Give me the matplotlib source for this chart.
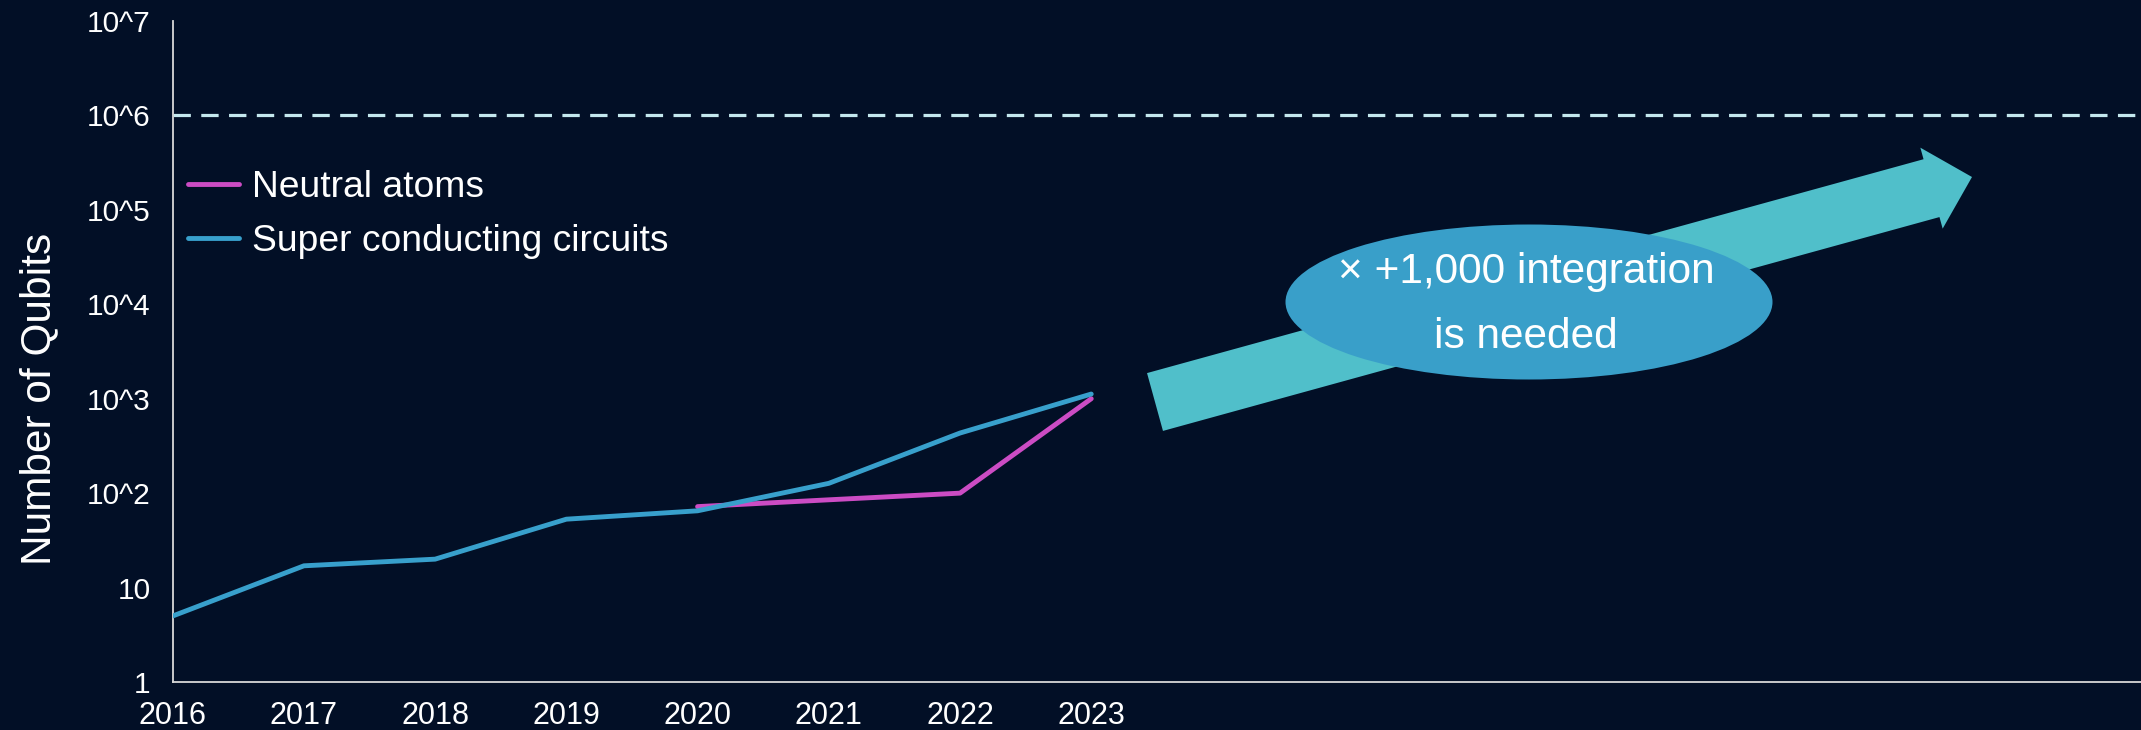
import matplotlib
matplotlib.use("Agg")
import matplotlib.pyplot as plt
import matplotlib.patches as mpatches
from matplotlib.ticker import NullLocator

# qubit counts per year (log scale)
SC_YEARS = [2016, 2017, 2018, 2019, 2020, 2021, 2022, 2023]
SC_QUBITS = [5, 17, 20, 53, 65, 127, 433, 1121]
NA_YEARS = [2020, 2021, 2022, 2023]
NA_QUBITS = [72, 85, 100, 1000]

X_TICKS = [2016, 2017, 2018, 2019, 2020, 2021, 2022, 2023]
Y_TICKS = [1, 10, 1e2, 1e3, 1e4, 1e5, 1e6, 1e7]
Y_TICK_LABELS = ["1", "10", "10^2", "10^3", "10^4", "10^5", "10^6", "10^7"]
TARGET = 1e6

BG = "#020f26"
SC_COLOR = "#38a0cc"
NA_COLOR = "#cc4cc4"
ARROW_COLOR = "#50bfca"
BUBBLE_COLOR = "#399fc9"
TEXT = "white"

plt.rcParams["font.family"] = ["Liberation Sans", "DejaVu Sans"]
plt.rcParams["lines.scale_dashes"] = False

W, H, DPI = 2141, 730, 100
fig = plt.figure(figsize=(W / DPI, H / DPI), dpi=DPI, facecolor=BG)

ax_left, ax_bottom, ax_top = 172.7, 48, 709
ax = fig.add_axes([ax_left / W, ax_bottom / H, 1 - ax_left / W, (ax_top - ax_bottom) / H])
ax.set_facecolor(BG)

ax.plot(NA_YEARS, NA_QUBITS, color=NA_COLOR, lw=3.5, solid_capstyle="round",
        label="Neutral atoms", zorder=3)
ax.plot(SC_YEARS, SC_QUBITS, color=SC_COLOR, lw=3.5, solid_capstyle="round",
        label="Super conducting circuits", zorder=4)
ax.axhline(TARGET, color="#c4e8ee", lw=2.3, dashes=(12.5, 7.5), zorder=2)

ax.set_yscale("log")
ax.set_ylim(1, 1e7)
ax.set_xlim(2016, 2031)
ax.set_yticks(Y_TICKS)
ax.set_yticklabels(Y_TICK_LABELS)
ax.yaxis.set_minor_locator(NullLocator())
ax.set_xticks(X_TICKS)
ax.set_xticklabels([str(y) for y in X_TICKS])
ax.tick_params(axis="y", length=0, pad=16, labelsize=21.5, labelcolor=TEXT)
ax.tick_params(axis="x", length=0, pad=14, labelsize=22, labelcolor=TEXT)

for side in ("top", "right"):
    ax.spines[side].set_visible(False)
for side in ("left", "bottom"):
    ax.spines[side].set_color("#d8d8d8")
    ax.spines[side].set_linewidth(1.3)

ax.set_ylabel("Number of Qubits", fontsize=30.5, color=TEXT)
ax.yaxis.set_label_coords(-0.0578, 0.428)

leg = ax.legend(loc="upper left", bbox_to_anchor=(0.0078, 0.775), frameon=False,
                fontsize=26.8, handlelength=1.38, handletextpad=0.35,
                labelspacing=0.53, borderpad=0, borderaxespad=0)
for t in leg.get_texts():
    t.set_color(TEXT)


def inch(x, y):
    # pixel position measured from the top-left corner -> inches from bottom-left
    return x / DPI, (H - y) / DPI


# growth arrow towards the 10^6 target
tx, ty = inch(1155, 402)
hx, hy = inch(1972, 177)
arrow = mpatches.FancyArrow(tx, ty, hx - tx, hy - ty, width=0.60, head_width=0.84,
                            head_length=0.42, length_includes_head=True,
                            color=ARROW_COLOR, lw=0, transform=fig.dpi_scale_trans)
fig.patches.append(arrow)

ex, ey = inch(1529, 302)
bubble = mpatches.Ellipse((ex, ey), 4.87, 1.55, color=BUBBLE_COLOR, lw=0,
                          transform=fig.dpi_scale_trans)
fig.patches.append(bubble)

for label, ypx in (("\u00d7 +1,000 integration", 272), ("is needed", 337)):
    lx, ly = inch(1526, ypx)
    fig.text(lx, ly, label, transform=fig.dpi_scale_trans, ha="center", va="center",
             fontsize=30.5, color=TEXT)

fig.savefig("out.png", dpi=DPI, facecolor=BG)
